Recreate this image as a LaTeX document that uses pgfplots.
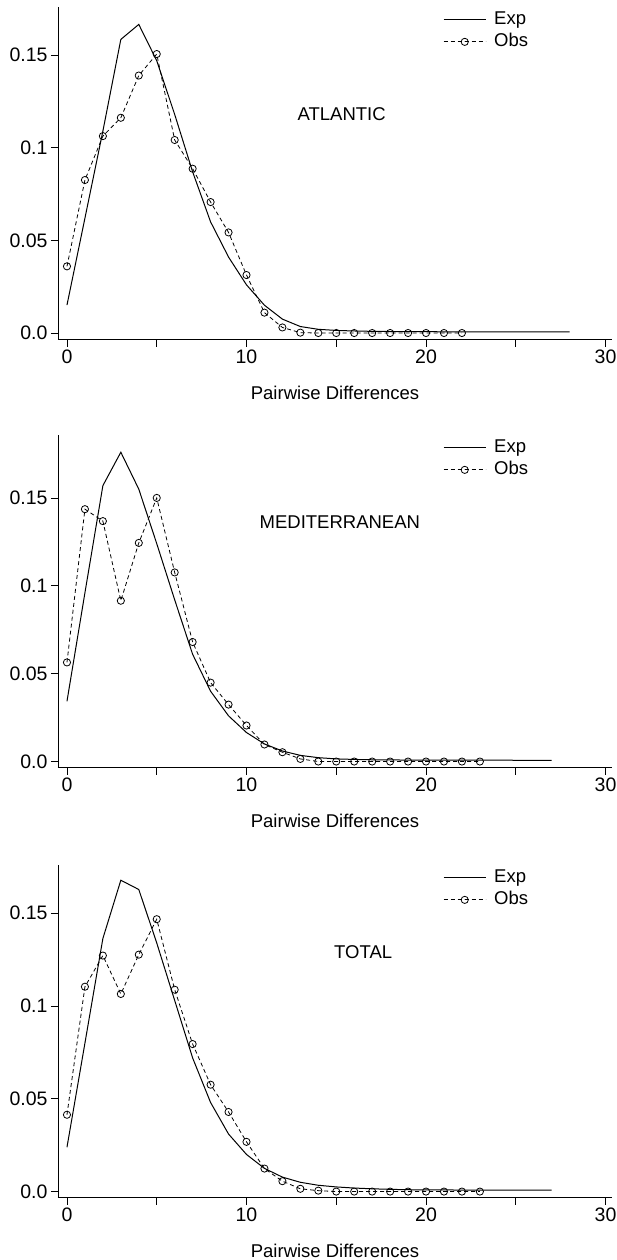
\documentclass[border=0pt]{standalone}
\usepackage{fontspec}
\setmainfont{Liberation Sans}
\usepackage{pgfplots}
\pgfplotsset{compat=1.18}

\newcommand{\chartfont}{\fontsize{18.5}{21}\selectfont}
\newcommand{\tickfont}{\fontsize{19.5}{22}\selectfont}

\pgfplotsset{
  mismatch/.style={
    width=554pt, height=332.5pt, scale only axis,
    anchor=north west,
    axis x line=bottom, axis y line=left,
    axis line style={-, line width=0.8pt},
    xmin=-0.5, xmax=30.36,
    xtick={0,5,...,30}, xticklabels={0,,10,,20,,30},
    ytick={0,0.05,0.1,0.15}, yticklabels={0.0,0.05,0.1,0.15},
    tick align=outside, major tick length=7pt,
    tick style={line width=0.8pt, black},
    tick label style={font=\tickfont},
    xlabel={Pairwise Differences},
    xlabel style={font=\chartfont, at={(axis description cs:0.5,0)}, anchor=center, yshift=-53pt},
    reverse legend,
    legend cell align=left,
    legend style={at={(rel axis cs:0.695,0.995)}, anchor=north west, draw=none, fill=none,
      inner sep=0pt, font=\chartfont,
      nodes={inner xsep=4pt, inner ysep=2.5pt, text height=13pt, text depth=4pt},
      /tikz/every odd column/.append style={column sep=4pt}},
    legend image code/.code={\draw[mark repeat=2,mark phase=2] plot coordinates {(0pt,0pt) (21pt,0pt) (42pt,0pt)};},
    clip=false,
  },
  exp/.style={black, line width=1pt},
  obs/.style={black, line width=0.8pt, dash pattern=on 4pt off 3pt, mark=o, mark size=3.6pt,
    mark options={solid, fill=white, line width=0.8pt}},
}

\begin{document}
\begin{tikzpicture}
% ATLANTIC
\begin{axis}[mismatch, at={(58pt,-7pt)}, ymin=-0.0035, ymax=0.176]
\addplot[obs] coordinates {(0,0.036) (1,0.0826) (2,0.1063) (3,0.1162) (4,0.139) (5,0.1506)
  (6,0.1042) (7,0.0887) (8,0.0707) (9,0.0543) (10,0.0313) (11,0.011) (12,0.003) (13,0.0002)
  (14,0) (15,0) (16,0) (17,0) (18,0) (19,0) (20,0) (21,0) (22,0)};
\addplot[exp] coordinates {(0,0.0151) (1,0.062) (2,0.109) (3,0.1585) (4,0.1666) (5,0.147)
  (6,0.118) (7,0.087) (8,0.060) (9,0.041) (10,0.026) (11,0.015) (12,0.0075) (13,0.0035)
  (14,0.002) (15,0.0014) (16,0.0011) (17,0.0009) (18,0.0008) (20,0.0007) (24,0.0006) (28,0.0006)};
\legend{Obs,Exp}
\node[font=\chartfont] at (axis cs:15.3,0.118) {ATLANTIC};
\end{axis}
% MEDITERRANEAN
\begin{axis}[mismatch, at={(58pt,-435pt)}, ymin=-0.0034, ymax=0.1858]
\addplot[obs] coordinates {(0,0.0564) (1,0.1436) (2,0.1368) (3,0.0915) (4,0.1244) (5,0.15)
  (6,0.1076) (7,0.068) (8,0.0449) (9,0.0324) (10,0.0205) (11,0.0097) (12,0.0053) (13,0.0015)
  (14,0) (15,0) (16,0) (17,0) (18,0) (19,0) (20,0) (21,0) (22,0) (23,0)};
\addplot[exp] coordinates {(0,0.0343) (1,0.096) (2,0.157) (3,0.176) (4,0.155) (5,0.124)
  (6,0.092) (7,0.061) (8,0.040) (9,0.026) (10,0.0165) (11,0.010) (12,0.006) (13,0.0035)
  (14,0.0022) (15,0.0015) (16,0.0012) (17,0.001) (18,0.0009) (20,0.0008) (27,0.0007)};
\legend{Obs,Exp}
\node[font=\chartfont] at (axis cs:15.2,0.136) {MEDITERRANEAN};
\end{axis}
% TOTAL
\begin{axis}[mismatch, at={(58pt,-865pt)}, ymin=-0.0032, ymax=0.176]
\addplot[obs] coordinates {(0,0.0414) (1,0.1104) (2,0.1272) (3,0.1065) (4,0.1277) (5,0.1468)
  (6,0.1088) (7,0.0795) (8,0.0576) (9,0.0429) (10,0.0268) (11,0.0124) (12,0.0056) (13,0.0015)
  (14,0.0005) (15,0) (16,0) (17,0) (18,0) (19,0) (20,0) (21,0) (22,0) (23,0)};
\addplot[exp] coordinates {(0,0.0239) (1,0.080) (2,0.1364) (3,0.1678) (4,0.1628) (5,0.134)
  (6,0.103) (7,0.072) (8,0.048) (9,0.031) (10,0.020) (11,0.0125) (12,0.0078) (13,0.005)
  (14,0.0034) (15,0.0025) (16,0.0019) (17,0.0015) (18,0.0012) (19,0.001) (20,0.0009) (23,0.0008) (27,0.0008)};
\legend{Obs,Exp}
\node[font=\chartfont] at (axis cs:16.5,0.129) {TOTAL};
\end{axis}
\pgfresetboundingbox
\useasboundingbox (0,0) rectangle (616pt,-1260pt);
\end{tikzpicture}
\end{document}
